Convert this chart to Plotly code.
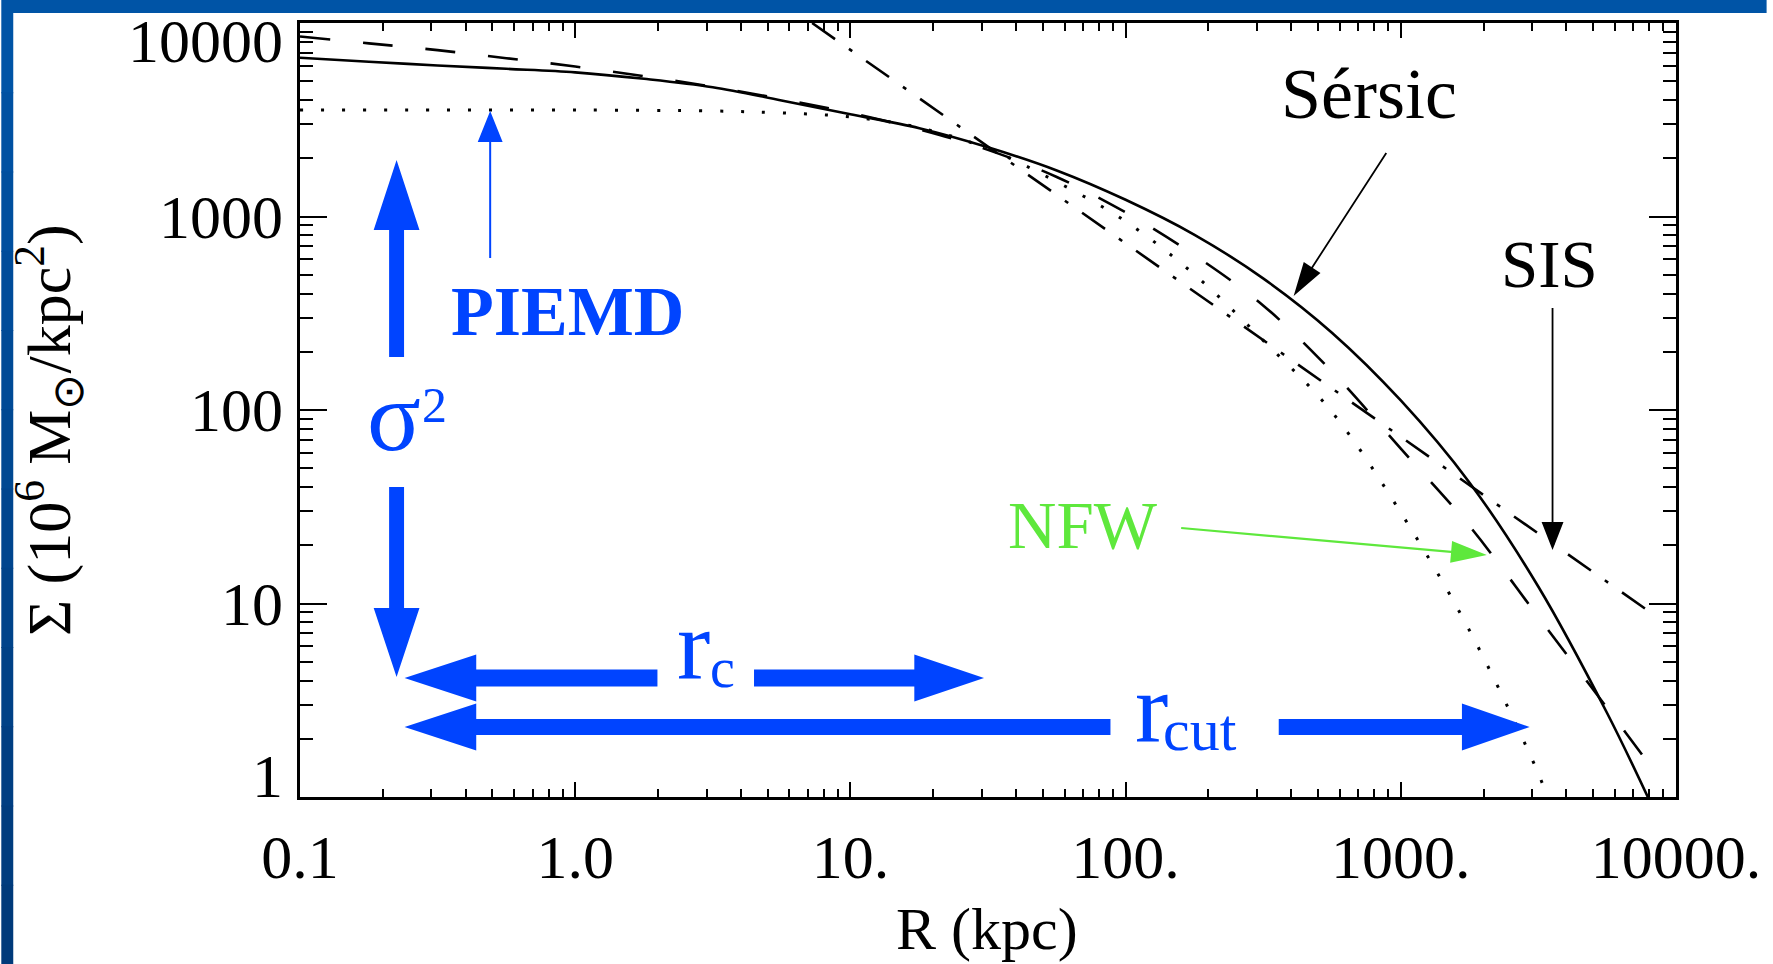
import math
import plotly.graph_objects as go

# ---------------- data ----------------
sersic_R = [0.1, 0.178, 0.316, 0.562, 1.0, 1.78, 3.16, 5.62, 10, 17.8, 31.6, 56.2, 100, 178,
            316, 562, 1000, 1778, 3162, 5623, 7900]
sersic_S = [6610, 6310, 6030, 5800, 5560, 5150, 4660, 3980, 3380, 2860, 2280, 1730, 1220, 804,
            479, 251, 112, 42.1, 12.2, 2.71, 1.0]

nfw_R = [0.1, 0.178, 0.316, 0.562, 1.0, 1.78, 3.16, 5.62, 10, 17.8, 31.6, 56.2, 100, 178,
         316, 562, 1000, 1778, 3162, 5623, 8128]
nfw_S = [8510, 7850, 7240, 6580, 5960, 5310, 4680, 4050, 3430, 2820, 2210, 1600, 1050, 631,
         347, 158, 63.1, 25.1, 8.51, 2.88, 1.43]

piemd_R = [0.1, 0.316, 1.0, 3.16, 5.62, 10, 17.8, 31.6, 56.2, 100, 178, 316, 562, 1000,
           1778, 3162, 3467]
piemd_S = [3550, 3550, 3550, 3510, 3430, 3270, 2880, 2240, 1510, 944, 501, 229, 97.7, 29.5,
           7.24, 1.32, 0.93]

sis_R = [7.26, 72.6, 726, 7900]
sis_S = [10000, 1000, 100, 9.2]

x_tickvals = [0.1, 1, 10, 100, 1000, 10000]
x_ticktext = ["0.1", "1.0", "10.", "100.", "1000.", "10000."]
y_tickvals = [1, 10, 100, 1000, 10000]
y_ticktext = ["1", "10", "100", "1000", "10000"]

# ---------------- layout geometry (pixels) ----------------
W, H = 1773, 964
L_, R_, T_, B_ = 300, 1682, 23, 797
PW, PH = R_ - L_, B_ - T_

def px2x(X):
    return (X - L_) / PW

def py2y(Y):
    return (B_ - Y) / PH

BLUE = "#0044ff"
GREEN = "#5ee83c"
FONT = "Liberation Serif"

def poly(pts):
    return "M " + " L ".join(f"{px2x(x):.5f},{py2y(y):.5f}" for x, y in pts) + " Z"

def arrow(x0, y0, x1, y1, sw, hw, hl, color):
    dx, dy = x1 - x0, y1 - y0
    n = math.hypot(dx, dy)
    ux, uy = dx / n, dy / n
    nx, ny = -uy, ux
    bx, by = x1 - ux * hl, y1 - uy * hl
    pts = [
        (x0 + nx * sw / 2, y0 + ny * sw / 2),
        (bx + nx * sw / 2, by + ny * sw / 2),
        (bx + nx * hw / 2, by + ny * hw / 2),
        (x1, y1),
        (bx - nx * hw / 2, by - ny * hw / 2),
        (bx - nx * sw / 2, by - ny * sw / 2),
        (x0 - nx * sw / 2, y0 - ny * sw / 2),
    ]
    return dict(type="path", xref="paper", yref="paper", path=poly(pts),
                fillcolor=color, line=dict(width=0), layer="above")

fig = go.Figure()

fig.add_trace(go.Scatter(x=sersic_R, y=sersic_S, mode="lines", name="Sérsic",
                         line=dict(color="black", width=2.6, shape="spline", smoothing=1.0)))
fig.add_trace(go.Scatter(x=nfw_R, y=nfw_S, mode="lines", name="NFW",
                         line=dict(color="black", width=2.6, dash="30px,33px",
                                   shape="spline", smoothing=1.0)))
fig.add_trace(go.Scatter(x=piemd_R, y=piemd_S, mode="lines", name="PIEMD",
                         line=dict(color="black", width=3, dash="3px,18px",
                                   shape="spline", smoothing=1.0)))
fig.add_trace(go.Scatter(x=sis_R, y=sis_S, mode="lines", name="SIS",
                         line=dict(color="black", width=2.6, dash="28px,17px,4px,17px")))

shapes = []
# blue slide frame: top bar and left bar (darkening downwards)
shapes.append(dict(type="rect", xref="paper", yref="paper", layer="below",
                   x0=px2x(0), x1=px2x(W), y0=py2y(13), y1=py2y(0),
                   fillcolor="rgb(0,84,166)", line=dict(width=0)))
nseg = 12
for i in range(nseg):
    t = i / (nseg - 1)
    g = int(84 - 26 * t)
    b = int(166 - 44 * t)
    y0 = 13 + (H - 13) * i / nseg
    y1 = 13 + (H - 13) * (i + 1) / nseg + 1
    shapes.append(dict(type="rect", xref="paper", yref="paper", layer="below",
                       x0=px2x(0), x1=px2x(12), y0=py2y(y1), y1=py2y(y0),
                       fillcolor=f"rgb(0,{g},{b})", line=dict(width=0)))

# blue schematic arrows
shapes.append(arrow(397, 357, 397, 160, 15, 46, 70, BLUE))      # sigma^2 up
shapes.append(arrow(397, 487, 397, 677, 15, 46, 69, BLUE))      # sigma^2 down
shapes.append(arrow(659, 678, 405, 678, 17, 47, 72, BLUE))      # r_c left
shapes.append(arrow(756, 678, 987, 678, 17, 47, 70, BLUE))      # r_c right
shapes.append(arrow(1114, 727, 405, 727, 16, 47, 72, BLUE))     # r_cut left
shapes.append(arrow(1283, 727, 1535, 727, 16, 47, 68, BLUE))    # r_cut right
shapes.append(arrow(491, 258, 491, 111, 2, 25, 31, BLUE))       # PIEMD core
# label pointers
shapes.append(arrow(1391, 153, 1298, 296, 1.8, 20, 34, "black"))   # Sérsic
shapes.append(arrow(1558, 308, 1558, 550, 1.8, 22, 28, "black"))   # SIS
shapes.append(arrow(1185, 528, 1492, 555, 2.2, 22, 36, GREEN))     # NFW

ann = []

def text(s, X, Y, size, color="black", bold=False, xanchor="center", angle=0):
    ann.append(dict(text=f"<b>{s}</b>" if bold else s, xref="paper", yref="paper",
                    x=px2x(X), y=py2y(Y), xanchor=xanchor, yanchor="middle",
                    showarrow=False, textangle=angle,
                    font=dict(family=FONT, size=size, color=color)))

text("Sérsic", 1374, 94, 72)
text("SIS", 1555, 264, 67)
text("NFW", 1086, 525, 67, GREEN)
text("PIEMD", 569, 311, 70, BLUE, bold=True)
text("σ", 394, 416, 100, BLUE)
text("2", 435, 405, 50, BLUE)
text("r", 695, 645, 100, BLUE)
text("c", 724, 668, 56, BLUE)
text("r", 1155, 708, 100, BLUE)
text("cut", 1204, 730, 60, BLUE)

# axis titles
text("R (kpc)", 990, 929, 60)
text("Σ (10<sup>6</sup> M<sub>⊙</sub>/kpc<sup>2</sup>)", 47, 430, 62, angle=-90)

# y tick labels (end labels kept inside the frame as in the original)
for v, s in zip(y_tickvals, y_ticktext):
    Yc = B_ - math.log10(v) * PH / 4
    if v == y_tickvals[-1]:
        Yc += 18
    if v == y_tickvals[0]:
        Yc -= 21
    text(s, 285, Yc, 62, xanchor="right")

x_minor = [k * 10 ** e for e in range(-1, 4) for k in range(2, 10)]
y_minor = [k * 10 ** e for e in range(0, 4) for k in range(2, 10)]

common = dict(type="log", showgrid=False, zeroline=False, showline=True, linewidth=3,
              linecolor="black", mirror="allticks", ticks="inside", tickcolor="black",
              tickwidth=2)

fig.update_xaxes(range=[-1, 4], tickmode="array", tickvals=x_tickvals, ticktext=x_ticktext,
                 ticklen=15, ticklabelstandoff=4,
                 tickfont=dict(family=FONT, size=62, color="black"),
                 minor=dict(tickmode="array", tickvals=x_minor, ticks="inside", ticklen=8,
                            tickwidth=2, tickcolor="black", showgrid=False),
                 **common)
fig.update_yaxes(range=[0, 4], tickmode="array", tickvals=y_tickvals, showticklabels=False,
                 ticklen=27,
                 minor=dict(tickmode="array", tickvals=y_minor, ticks="inside", ticklen=13,
                            tickwidth=2, tickcolor="black", showgrid=False),
                 **common)

fig.update_layout(width=W, height=H, margin=dict(l=L_, r=W - R_, t=T_, b=H - B_),
                  paper_bgcolor="white", plot_bgcolor="white", showlegend=False,
                  shapes=shapes, annotations=ann)

fig.write_html("out.html", config={"displayModeBar": False},
               post_script="document.body.style.margin='0px';"
                           "document.body.style.overflow='hidden';")
